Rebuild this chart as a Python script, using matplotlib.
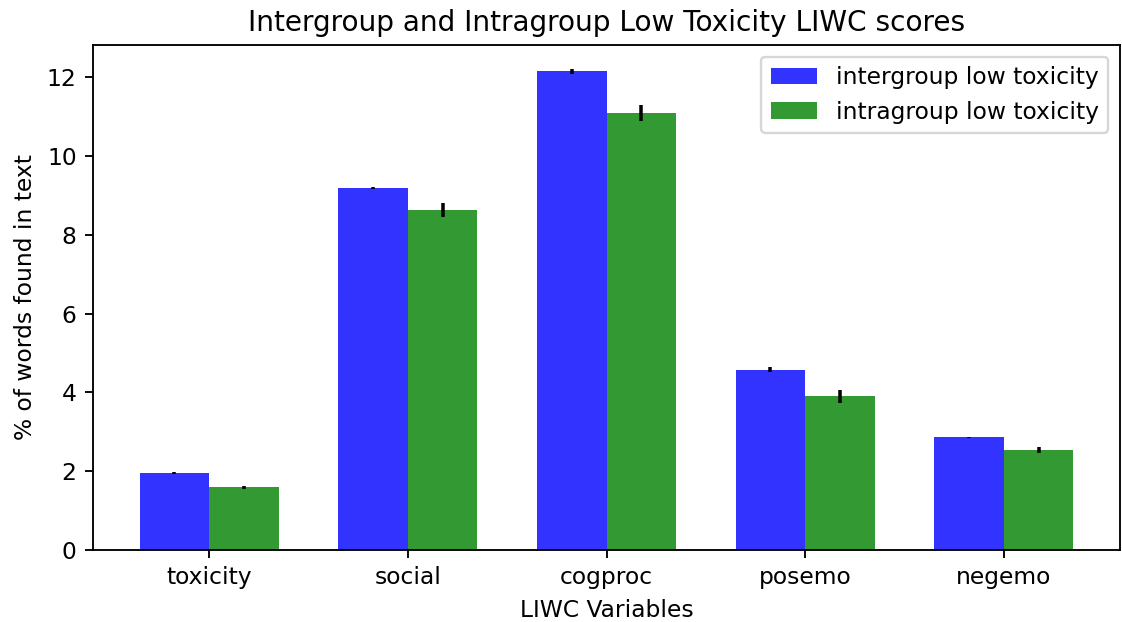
import numpy as np
import matplotlib
matplotlib.use("Agg")
import matplotlib.pyplot as plt

variables = ["toxicity", "social", "cogproc", "posemo", "negemo"]
inter_means = [1.95, 9.19, 12.15, 4.58, 2.86]
inter_err = [0.03, 0.02, 0.06, 0.07, 0.02]
intra_means = [1.59, 8.63, 11.09, 3.90, 2.53]
intra_err = [0.04, 0.18, 0.21, 0.16, 0.08]

dpi = 168
fig = plt.figure(figsize=(1122 / dpi, 622 / dpi), dpi=dpi)
ax = fig.add_axes([93 / 1122, 72 / 622, 1027 / 1122, 505 / 622])

index = np.arange(len(variables))
bar_width = 0.35
opacity = 0.8

ax.bar(index, inter_means, bar_width, alpha=opacity, color="b",
       yerr=inter_err, error_kw={"ecolor": "k"}, label="intergroup low toxicity")
ax.bar(index + bar_width, intra_means, bar_width, alpha=opacity, color="g",
       yerr=intra_err, error_kw={"ecolor": "k"}, label="intragroup low toxicity")

ax.set_xlabel("LIWC Variables")
ax.set_ylabel("% of words found in text")
ax.set_title("Intergroup and Intragroup Low Toxicity LIWC scores")
ax.set_xticks(index + bar_width / 2)
ax.set_xticklabels(variables)
ax.legend(loc="upper right")

fig.savefig("out.png", dpi=dpi)
